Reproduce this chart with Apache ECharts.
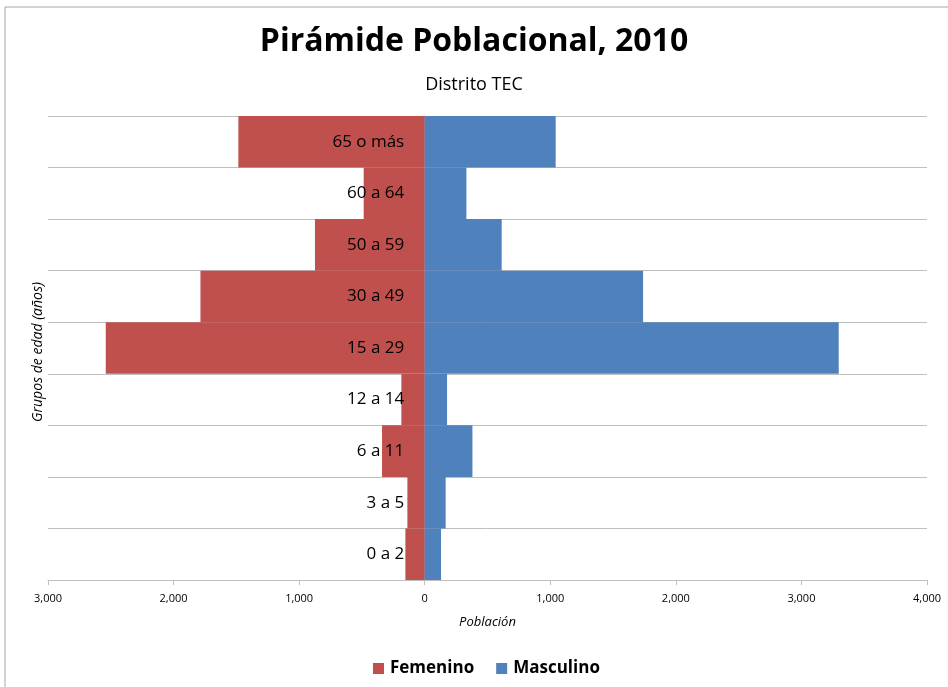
<!DOCTYPE html>
<html>
<head>
<meta charset="utf-8">
<script src="https://cdn.jsdelivr.net/npm/echarts@6/dist/echarts.min.js"></script>
<style>html,body{margin:0;padding:0;background:#fff}#c{width:948px;height:687px}</style>
</head>
<body>
<div id="c"></div>
<script>
const categories = ['0 a 2', '3 a 5', '6 a 11', '12 a 14', '15 a 29', '30 a 49', '50 a 59', '60 a 64', '65 o más'];
const femenino = [154, 138, 340, 186, 2540, 1786, 874, 486, 1484];
const masculino = [130, 167, 380, 178, 3297, 1739, 613, 332, 1043];

const chart = echarts.init(document.getElementById('c'));
const fmt = v => Math.abs(v).toString().replace(/\B(?=(\d{3})+(?!\d))/g, ',');
chart.setOption({
  animation: false,
  title: [
    {text: 'Pirámide Poblacional, 2010', left: 'center', top: 21,
     textStyle: {fontFamily: 'Open Sans', fontWeight: 'bold', fontSize: 32, color: '#000'}},
    {text: 'Distrito TEC', left: 'center', top: 71,
     textStyle: {fontFamily: 'Open Sans', fontWeight: 'normal', fontSize: 18, color: '#000'}}
  ],
  graphic: [
    {type: 'rect', shape: {x: 5, y: 7, width: 960, height: 700}, style: {fill: 'none', stroke: '#a6a6a6', lineWidth: 1}, z: -1},
    {type: 'text', x: 38, y: 352, rotation: Math.PI / 2,
     style: {text: 'Grupos de edad (años)', fontFamily: 'Open Sans', fontStyle: 'italic', fontSize: 14, fill: '#000', align: 'center', verticalAlign: 'middle'}}
  ],
  legend: {
    data: ['Femenino', 'Masculino'], top: 655, left: 368, itemWidth: 11, itemHeight: 11, itemGap: 22,
    icon: 'rect',
    textStyle: {fontFamily: 'Open Sans', fontWeight: 'bold', fontSize: 17, color: '#000', padding: [0, 0, 0, 1]}
  },
  grid: {left: 48, right: 21, top: 116, bottom: 107, containLabel: false, outerBoundsMode: 'none'},
  xAxis: {
    type: 'value', min: -3000, max: 4000, interval: 1000,
    name: 'Población', nameLocation: 'middle', nameGap: 36,
    nameTextStyle: {fontFamily: 'Open Sans', fontStyle: 'italic', fontSize: 13, color: '#000'},
    axisLine: {show: true, onZero: false, lineStyle: {color: '#bfbfbf'}},
    axisTick: {show: true, length: 5, lineStyle: {color: '#bfbfbf'}},
    axisLabel: {formatter: fmt, fontFamily: 'Open Sans', fontSize: 11, color: '#000', margin: 13},
    splitLine: {show: false}
  },
  yAxis: {
    type: 'category', data: categories,
    axisLine: {show: true, onZero: true, lineStyle: {color: '#bfbfbf'}},
    axisTick: {show: true, length: 6, lineStyle: {color: '#bfbfbf'}},
    axisLabel: {show: false},
    splitLine: {show: true, lineStyle: {color: '#bfbfbf'}}
  },
  series: [
    {name: 'Femenino', type: 'bar', stack: 'p', barCategoryGap: 0, itemStyle: {color: '#C0504D'},
     data: femenino.map(v => -v)},
    {name: 'Masculino', type: 'bar', stack: 'p', barCategoryGap: 0, itemStyle: {color: '#4F81BD'},
     data: masculino},
    {name: 'labels', type: 'scatter', symbolSize: 1, itemStyle: {color: 'rgba(0,0,0,0)'}, z: 10, silent: true,
     data: categories.map(c => [0, c]),
     label: {show: true, position: 'left', distance: 20, formatter: p => p.data[1],
             fontFamily: 'Open Sans', fontSize: 17, color: '#000', opacity: 1}}
  ]
});
</script>
</body>
</html>
